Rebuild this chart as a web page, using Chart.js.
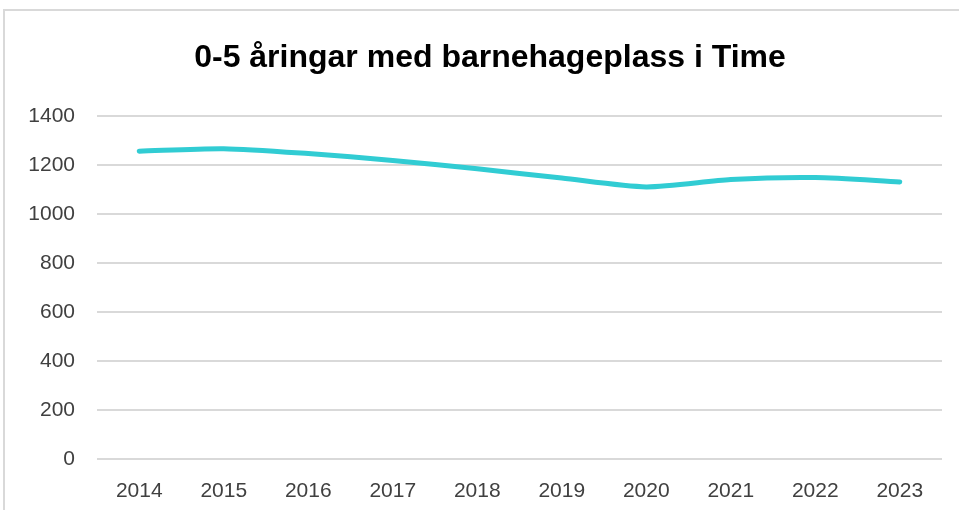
<!DOCTYPE html>
<html>
<head>
  <meta charset="utf-8">
  <title>0-5 åringar med barnehageplass i Time</title>
  <script src="https://cdn.jsdelivr.net/npm/chart.js"></script>
  <style>
    body { margin: 0; background: #fff; overflow: hidden; }
    /* the chart frame runs past the right edge of the picture, as in the original */
    .frame { position: absolute; left: 3px; top: 9px; width: 970px; height: 499px; border-top: 2px solid #d9d9d9; border-left: 2px solid #d9d9d9; }
  </style>
</head>
<body>
  <div class="frame">
    <canvas id="chart"></canvas>
  </div>
  <script>
    const years = ['2014', '2015', '2016', '2017', '2018', '2019', '2020', '2021', '2022', '2023'];
    const children = [1258, 1268, 1248, 1220, 1186, 1148, 1112, 1142, 1150, 1132];
    const yTicks = [0, 200, 400, 600, 800, 1000, 1200, 1400];

    Chart.defaults.font.family = "'Liberation Sans', Arial, sans-serif";
    Chart.defaults.color = '#404040';

    new Chart(document.getElementById('chart'), {
      type: 'line',
      data: {
        labels: years,
        datasets: [{
          label: '0-5 åringar',
          data: children,
          borderColor: '#31ccd3',
          borderWidth: 5,
          pointRadius: 0,
          tension: 0.25,
          borderCapStyle: 'round',
          fill: false
        }]
      },
      options: {
        responsive: true,
        maintainAspectRatio: false,
        animation: false,
        layout: { padding: { left: 0, right: 0, top: 28, bottom: 0 } },
        plugins: {
          legend: { display: false },
          tooltip: { enabled: false },
          title: {
            display: true,
            text: '0-5 åringar med barnehageplass i Time',
            color: '#000',
            font: { size: 32, weight: 'bold' },
            padding: { top: 0, bottom: 39 }
          }
        },
        scales: {
          x: {
            offset: true,
            grid: { display: false, drawTicks: false },
            border: { display: false },
            ticks: { font: { size: 21 }, padding: 20 },
            afterFit: (axis) => { axis.height = 51; }
          },
          y: {
            min: 0,
            max: 1400,
            afterBuildTicks: (axis) => { axis.ticks = yTicks.map(v => ({ value: v })); },
            grid: { color: '#d9d9d9', lineWidth: 2, drawTicks: false },
            border: { display: false },
            ticks: { font: { size: 21 }, padding: 22, callback: (v) => String(v) },
            afterFit: (axis) => { axis.width = 92; }
          },
          // empty right-hand axis, only keeps the plot's right margin
          yRight: {
            position: 'right',
            min: 0,
            max: 1400,
            grid: { display: false, drawTicks: false },
            border: { display: false },
            ticks: { display: false },
            afterFit: (axis) => { axis.width = 33; }
          }
        }
      }
    });
  </script>
</body>
</html>
